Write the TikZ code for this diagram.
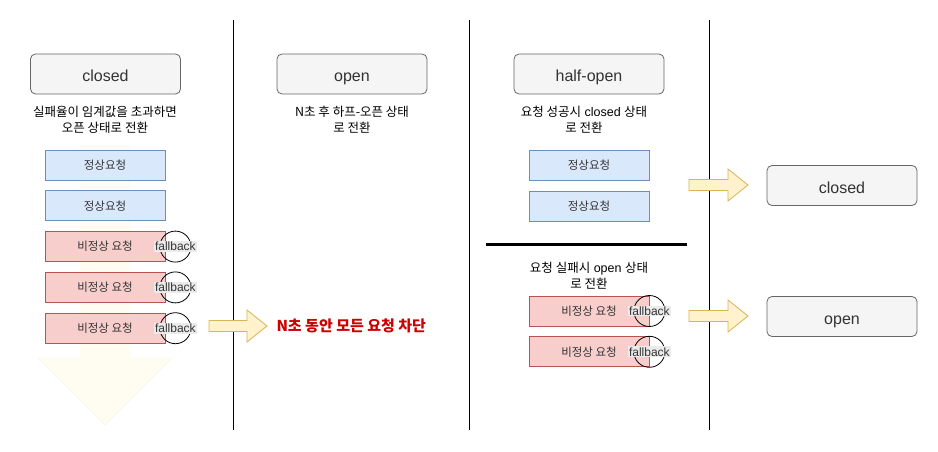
\documentclass[tikz,border=0pt]{standalone}
\usepackage{fontspec}
\setmainfont{Liberation Sans}
\newfontfamily\kr{Noto Sans CJK KR}
\usetikzlibrary{positioning,calc}

\definecolor{stfill}{HTML}{F5F5F5}
\definecolor{stline}{HTML}{666666}
\definecolor{okfill}{HTML}{DAE8FC}
\definecolor{okline}{HTML}{6C8EBF}
\definecolor{badfill}{HTML}{F8CECC}
\definecolor{badline}{HTML}{B85450}
\definecolor{fatfill}{HTML}{FFF2CC}
\definecolor{fatline}{HTML}{D6B656}
\definecolor{lblgray}{HTML}{EBEBEB}
\definecolor{txtdark}{HTML}{333333}
\definecolor{blockred}{HTML}{CC0000}

% block arrow from tail coordinate to tip coordinate
\newcommand{\fatarrow}[2]{%
  \draw[fat] ($(#1)+(0,-5.5)$) -- ($(#2)+(-20,-5.5)$) -- ($(#2)+(-20,-16)$) -- (#2)
    -- ($(#2)+(-20,16)$) -- ($(#2)+(-20,5.5)$) -- ($(#1)+(0,5.5)$) -- cycle;}

\begin{document}
\begin{tikzpicture}[x=1pt, y=-1pt,
  stbox/.style={draw=stline, fill=stfill, rounded corners=5pt, line width=0.8pt,
    minimum width=150pt, minimum height=40pt, text height=15pt, text depth=0pt,
    text=txtdark, font=\fontsize{16}{18}\selectfont},
  req/.style={draw=okline, fill=okfill, line width=0.8pt, minimum width=120pt,
    minimum height=30pt, inner sep=0pt, text=txtdark, font=\kr\fontsize{11.5}{13}\selectfont},
  badreq/.style={req, draw=badline, fill=badfill},
  fbcirc/.style={draw, circle, line width=0.8pt, minimum size=31pt, inner sep=0pt},
  fblbl/.style={fill=lblgray, inner sep=1pt, text=txtdark, font=\fontsize{12}{13}\selectfont},
  note/.style={align=center, font=\fontsize{12.5}{16}\selectfont},
  fat/.style={draw=fatline, fill=fatfill, line width=0.8pt},
  ghost/.style={draw=fatline, fill=fatfill, draw opacity=0.1, fill opacity=0.25}
]
\useasboundingbox (0,0) rectangle (938,452);

% faint downward arrow behind the first column
\draw[ghost] (80,145) -- (130,145) -- (130,358) -- (172,358) -- (105,425)
  -- (38,358) -- (80,358) -- cycle;

% column dividers
\foreach \cx in {233,469,709}
  \draw[line width=0.8pt] (\cx,20) -- (\cx,430);

% closed column
\node[stbox] (closed) at (105.5,74) {closed};
\node[note] (closednote) at (105,119.5) {\kr 실패율이 임계값을 초과하면\\\kr 오픈 상태로 전환};
\node[req] (ok1) at (105,165) {정상요청};
\node[req, below=10pt of ok1] (ok2) {정상요청};
\node[badreq, below=10pt of ok2] (bad1) {비정상 요청};
\node[badreq, below=10pt of bad1] (bad2) {비정상 요청};
\node[badreq, below=10pt of bad2] (bad3) {비정상 요청};
\foreach \b in {1,2,3} {
  \node[fbcirc] (fbc\b) at ($(bad\b.east)+(10,0)$) {};
  \node[fblbl] (fbl\b) at (fbc\b) {fallback};
}

% open column
\node[stbox] (open) at (352,74) {open};
\node[note] (opennote) at (352,119.5) {\kr N초 후 하프-오픈 상태\\\kr 로 전환};
\coordinate (blk tail) at (209,326);
\coordinate (blk tip) at (267,326);
\fatarrow{blk tail}{blk tip}
\node[anchor=west, text=blockred, font=\kr\bfseries\fontsize{15}{17}\selectfont]
  (block) at (273,326) {N초 동안 모든 요청 차단};

% half-open column
\node[stbox] (half) at (589,74) {half-open};
\node[note] (halfnote) at (584,119.5) {{\kr 요청 성공시} closed {\kr 상태}\\\kr 로 전환};
\node[req] (hok1) at (589,165.5) {정상요청};
\node[req, below=10pt of hok1] (hok2) {정상요청};
\draw[line width=3pt] (486,244) -- (687,244);
\node[note] (failnote) at (589,276) {{\kr 요청 실패시} open {\kr 상태}\\\kr 로 전환};
\node[badreq] (hbad1) at (589,311) {비정상 요청};
\node[badreq, below=10pt of hbad1] (hbad2) {비정상 요청};
\foreach \b in {1,2} {
  \node[fbcirc] (hfbc\b) at (hbad\b.east) {};
  \node[fblbl] (hfbl\b) at (hfbc\b) {fallback};
}

% results
\node[stbox] (toclosed) at (842,185.5) {closed};
\node[stbox] (toopen) at (842,316.5) {open};
\coordinate (ok tail) at (689,185);
\coordinate (ok tip) at (748,185);
\coordinate (fail tail) at (689,316);
\coordinate (fail tip) at (748,316);
\fatarrow{ok tail}{ok tip}
\fatarrow{fail tail}{fail tip}
\end{tikzpicture}
\end{document}
